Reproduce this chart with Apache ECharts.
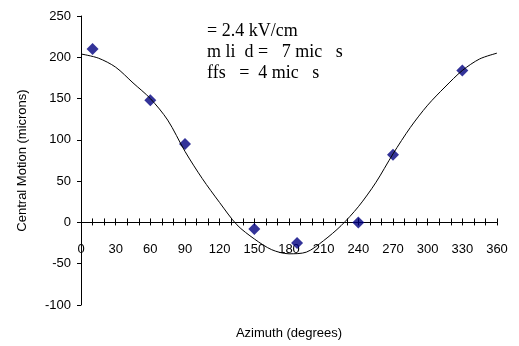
<!DOCTYPE html>
<html><head><meta charset="utf-8">
<script src="https://cdn.jsdelivr.net/npm/echarts@6/dist/echarts.min.js"></script>
<style>html,body{margin:0;padding:0;background:#fff}#c{width:519px;height:346px}</style>
</head><body><div id="c"></div>
<script>
// Measured points (diamonds)
const pointAzimuth = [10, 60, 90, 150, 187, 240, 270, 330];
const pointMotion = [210, 148, 95, -8, -25, 0, 82, 184];
// Fitted curve
const curveAzimuth = [0, 15, 30, 45, 60, 75, 90, 105, 120, 135, 150, 165, 180, 195, 210, 225, 240, 255, 270, 285, 300, 315, 330, 345, 360];
const curveMotion = [204, 199, 188, 169, 150, 124, 86, 53, 24, -3, -20, -33, -38, -36, -22, -4, 19, 48, 83, 115, 142, 164, 184, 198, 205];
const xTicks = [0, 30, 60, 90, 120, 150, 180, 210, 240, 270, 300, 330, 360];
const annotation = ["= 2.4 kV/cm", "m li  d =   7 mic   s", "ffs   =  4 mic   s"];

const chart = echarts.init(document.getElementById('c'), null, {renderer: 'canvas'});
const sans = 'Liberation Sans, Arial, sans-serif';
const yCommon = {type: 'value', min: -100, max: 250, interval: 50, splitLine: {show: false}};
chart.setOption({
  animation: false,
  grid: {left: 81, right: 22, top: 16, bottom: 41, containLabel: false, outerBoundsMode: 'none'},
  xAxis: [
    {
      type: 'value', min: 0, max: 360, interval: 10, position: 'bottom',
      splitLine: {show: false},
      axisLine: {onZero: true, onZeroAxisIndex: 0, lineStyle: {color: '#000', width: 1}},
      axisTick: {show: true, inside: true, length: 4, lineStyle: {color: '#000'}},
      axisLabel: {show: true, margin: -62, color: '#000', fontSize: 13, fontFamily: sans,
        formatter: v => xTicks.indexOf(v) >= 0 ? String(v) : ''},
      name: 'Azimuth (degrees)', nameLocation: 'middle', nameGap: 22,
      nameTextStyle: {color: '#000', fontSize: 13, fontFamily: sans}
    },
    {
      type: 'value', min: 0, max: 360, interval: 10, position: 'bottom',
      splitLine: {show: false},
      axisLine: {onZero: true, onZeroAxisIndex: 1, lineStyle: {color: '#000', width: 1}},
      axisTick: {show: true, inside: false, length: 3, lineStyle: {color: '#000'}},
      axisLabel: {show: false}
    }
  ],
  yAxis: [
    Object.assign({}, yCommon, {
      axisLine: {show: true, onZero: false, lineStyle: {color: '#000', width: 1}},
      axisTick: {show: true, inside: false, length: 4, lineStyle: {color: '#000'}},
      axisLabel: {margin: 10, color: '#000', fontSize: 13, fontFamily: sans},
      name: 'Central Motion (microns)', nameLocation: 'middle', nameGap: 52,
      nameTextStyle: {color: '#000', fontSize: 13, fontFamily: sans}
    }),
    Object.assign({}, yCommon, {
      position: 'left', show: false,
      axisLine: {show: false, onZero: false}, axisTick: {show: false}, axisLabel: {show: false}
    })
  ],
  series: [
    {
      type: 'line', xAxisIndex: 0, yAxisIndex: 0, smooth: 0.3, showSymbol: false, symbol: 'none',
      lineStyle: {color: '#000', width: 1},
      data: curveAzimuth.map((x, i) => [x, curveMotion[i]])
    },
    {
      type: 'scatter', xAxisIndex: 0, yAxisIndex: 0, symbol: 'diamond', symbolSize: 12,
      itemStyle: {color: '#000080'},
      data: pointAzimuth.map((x, i) => [x, pointMotion[i]])
    }
  ],
  graphic: annotation.map((t, i) => ({
    type: 'text', left: 207, top: 22 + i * 21,
    style: {text: t, fill: '#000', font: '18px "Liberation Serif", "Times New Roman", serif'}
  }))
});
</script></body></html>
